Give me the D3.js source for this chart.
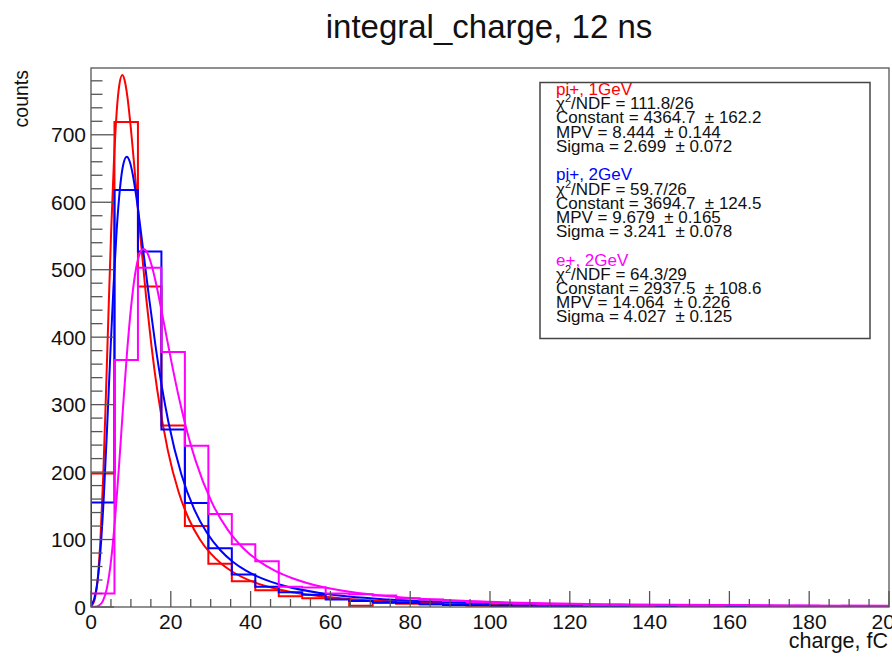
<!DOCTYPE html>
<html><head><meta charset="utf-8">
<script src="https://cdn.jsdelivr.net/npm/d3@7"></script>
<style>body{margin:0;background:#fff}svg{display:block}</style>
</head><body><svg id="c" width="892" height="659"></svg>
<script>
// ---------- data ----------
const nBins = 34, xMin = 0, xMax = 200;
const redCounts  = [198, 719, 475, 269, 120, 64, 38, 25, 16, 13, 12, 2, 6, 5, 4, 3, 2, 2, 1, 2, 1, 1, 0, 1, 1, 0, 1, 0, 0, 1, 0, 0, 0, 1];
const blueCounts = [155, 618, 527, 263, 154, 87, 48, 30, 22, 18, 11, 9, 7, 6, 4, 3, 3, 2, 2, 1, 1, 1, 1, 1, 0, 1, 1, 1, 0, 1, 0, 0, 1, 0];
const magCounts  = [20, 366, 503, 378, 239, 138, 93, 68, 30, 29, 20, 19, 17, 13, 11, 9, 7, 6, 5, 4, 4, 3, 3, 2, 3, 2, 2, 3, 2, 1, 2, 1, 2, 2];

const redFitX = [0, 0.35, 1.02, 1.70, 2.37, 3.05, 3.72, 4.40, 5.07, 5.75, 6.42, 7.10, 7.84, 8.44, 9.12, 9.79, 11.14, 12.49, 13.84, 15.19, 16.54, 19.24, 21.94, 24.64, 27.34, 30.04, 32.74, 35.43, 40.83, 48.93, 62.42, 89.41, 116.4, 170.4, 200];
const redFitY = [1.1, 2.9, 13.3, 42.0, 100.3, 192.0, 310.2, 439.0, 560.4, 660.7, 732.4, 774.0, 788.5, 780.6, 756.5, 721.2, 633.8, 542.2, 457.9, 385.1, 324.1, 232.5, 170.9, 129.0, 99.8, 79.0, 63.7, 52.3, 36.8, 23.6, 13.1, 5.7, 3.1, 1.3, 0.9];
const blueFitX = [0, 0.77, 1.58, 2.39, 3.20, 4.01, 4.82, 5.63, 6.44, 7.25, 8.06, 8.96, 9.68, 10.49, 11.30, 12.92, 14.54, 16.16, 17.78, 19.40, 22.64, 25.88, 29.13, 32.37, 35.61, 38.85, 42.09, 48.57, 58.29, 74.50, 106.9, 139.3, 200];
const blueFitY = [2.6, 11.3, 35.6, 84.9, 162.5, 262.6, 371.6, 474.4, 559.3, 619.9, 655.2, 667.4, 660.8, 640.4, 610.5, 536.5, 459.0, 387.6, 325.9, 274.3, 196.8, 144.7, 109.2, 84.5, 66.8, 53.9, 44.3, 31.1, 20.0, 11.1, 4.8, 2.6, 1.2];
const magFitX = [0, 0.98, 1.98, 2.99, 4.00, 5.00, 6.01, 7.02, 8.02, 9.03, 10.04, 11.04, 12.05, 13.17, 14.06, 15.07, 16.08, 18.09, 20.11, 22.12, 24.13, 26.15, 30.17, 34.20, 38.23, 42.25, 46.28, 50.31, 54.33, 62.39, 74.47, 94.60, 134.9, 200];
const magFitY = [0.0, 0.3, 2.0, 9.0, 28.3, 67.5, 129.2, 208.8, 295.4, 377.2, 444.6, 492.9, 520.9, 530.7, 525.4, 509.1, 485.4, 426.6, 364.9, 308.2, 259.1, 218.1, 156.5, 115.0, 86.8, 67.2, 53.1, 42.9, 35.2, 24.7, 15.9, 8.8, 3.8, 1.6];

const xTickLabels = [0, 20, 40, 60, 80, 100, 120, 140, 160, 180, 200];
const yTickLabels = [0, 100, 200, 300, 400, 500, 600, 700];

const seriesNames = ["pi+, 1GeV", "pi+, 2GeV", "e+, 2GeV"];
const chi2Text  = ["111.8/26", "59.7/26", "64.3/29"];
const constText = ["4364.7  \u00b1 162.2", "3694.7  \u00b1 124.5", "2937.5  \u00b1 108.6"];
const mpvText   = ["8.444  \u00b1 0.144", "9.679  \u00b1 0.165", "14.064  \u00b1 0.226"];
const sigmaText = ["2.699  \u00b1 0.072", "3.241  \u00b1 0.078", "4.027  \u00b1 0.125"];
const colors = ["#ff0000", "#0000ff", "#ff00ff"];

// ---------- layout ----------
const L = 91, R = 889, T = 68, B = 607;
const FONT = "'Liberation Sans', Arial, Helvetica, sans-serif";
const svg = d3.select("#c");
svg.append("rect").attr("width", 892).attr("height", 659).attr("fill", "#fff");

const x = d3.scaleLinear().domain([xMin, xMax]).range([L, R]);
const y = d3.scaleLinear().domain([0, 799]).range([B, T]);

svg.append("defs").append("clipPath").attr("id", "clip")
  .append("rect").attr("x", L).attr("y", T).attr("width", R - L).attr("height", B - T);

const plot = svg.append("g").attr("clip-path", "url(#clip)");
const bw = (xMax - xMin) / nBins;

function histPts(counts) {
  const pts = [[xMin, 0]];
  counts.forEach((v, i) => { pts.push([xMin + i * bw, v]); pts.push([xMin + (i + 1) * bw, v]); });
  pts.push([xMax, 0]);
  return pts;
}
const stepLine = d3.line().x(d => x(d[0])).y(d => y(d[1]));
const fitLine = d3.line().x(d => x(d[0])).y(d => y(d[1])).curve(d3.curveMonotoneX);

const hists = [redCounts, blueCounts, magCounts];
const fits = [[redFitX, redFitY], [blueFitX, blueFitY], [magFitX, magFitY]];
hists.forEach((h, k) => {
  plot.append("path").attr("d", stepLine(histPts(h))).attr("fill", "none")
    .attr("stroke", colors[k]).attr("stroke-width", 2);
  const pts = fits[k][0].map((xv, i) => [xv, fits[k][1][i]]);
  plot.append("path").attr("d", fitLine(pts)).attr("fill", "none")
    .attr("stroke", colors[k]).attr("stroke-width", 2);
});

// ---------- frame & ticks ----------
const axisCol = "#555";
svg.append("rect").attr("x", L).attr("y", T).attr("width", R - L).attr("height", B - T)
  .attr("fill", "none").attr("stroke", axisCol).attr("stroke-width", 1.3);

const tickG = svg.append("g").attr("stroke", axisCol).attr("stroke-width", 1.3);
d3.range(0, 800, 20).forEach(v => {
  const major = v % 100 === 0;
  tickG.append("line").attr("x1", L).attr("x2", L + (major ? 23 : 11.5))
    .attr("y1", y(v)).attr("y2", y(v));
});
d3.range(0, 201, 5).forEach(v => {
  const major = v % 20 === 0;
  tickG.append("line").attr("x1", x(v)).attr("x2", x(v))
    .attr("y1", B).attr("y2", B - (major ? 16 : 8));
});

svg.append("g").selectAll("text").data(yTickLabels).join("text")
  .attr("x", L - 5).attr("y", d => y(d)).attr("dy", "0.36em")
  .attr("text-anchor", "end").attr("font-family", FONT).attr("font-size", 21).attr("fill", "#111")
  .text(d => d);
svg.append("g").selectAll("text").data(xTickLabels).join("text")
  .attr("x", d => x(d)).attr("y", 629)
  .attr("text-anchor", "middle").attr("font-family", FONT).attr("font-size", 21).attr("fill", "#111")
  .text(d => d);

// titles
svg.append("text").attr("x", 489).attr("y", 38).attr("text-anchor", "middle")
  .attr("font-family", FONT).attr("font-size", 33).attr("fill", "#111")
  .text("integral_charge, 12 ns");
svg.append("text").attr("x", 888).attr("y", 648).attr("text-anchor", "end")
  .attr("font-family", FONT).attr("font-size", 21.5).attr("fill", "#111")
  .text("charge, fC");
svg.append("text").attr("transform", "translate(28,70) rotate(-90)").attr("text-anchor", "end")
  .attr("font-family", FONT).attr("font-size", 19.5).attr("fill", "#111")
  .text("counts");

// ---------- stats box ----------
svg.append("rect").attr("x", 540).attr("y", 82.5).attr("width", 330).attr("height", 256)
  .attr("fill", "#fff").attr("stroke", "#444").attr("stroke-width", 1.5);
const st = svg.append("g").attr("font-family", FONT).attr("font-size", 17).attr("fill", "#111");
const tx = 556, base0 = 95, lh = 14.2, gap = 85.3;
seriesNames.forEach((name, k) => {
  const b = base0 + k * gap;
  st.append("text").attr("x", tx).attr("y", b).attr("fill", colors[k]).text(name);
  const c = st.append("text").attr("x", tx).attr("y", b + lh);
  c.append("tspan").text("\u03c7");
  c.append("tspan").attr("dy", -7).attr("font-size", 11).text("2");
  c.append("tspan").attr("dy", 7).text("/NDF = " + chi2Text[k]);
  st.append("text").attr("x", tx).attr("y", b + 2 * lh).style("white-space", "pre").text("Constant = " + constText[k]);
  st.append("text").attr("x", tx).attr("y", b + 3 * lh).style("white-space", "pre").text("MPV = " + mpvText[k]);
  st.append("text").attr("x", tx).attr("y", b + 4 * lh).style("white-space", "pre").text("Sigma = " + sigmaText[k]);
});
</script>
</body></html>
